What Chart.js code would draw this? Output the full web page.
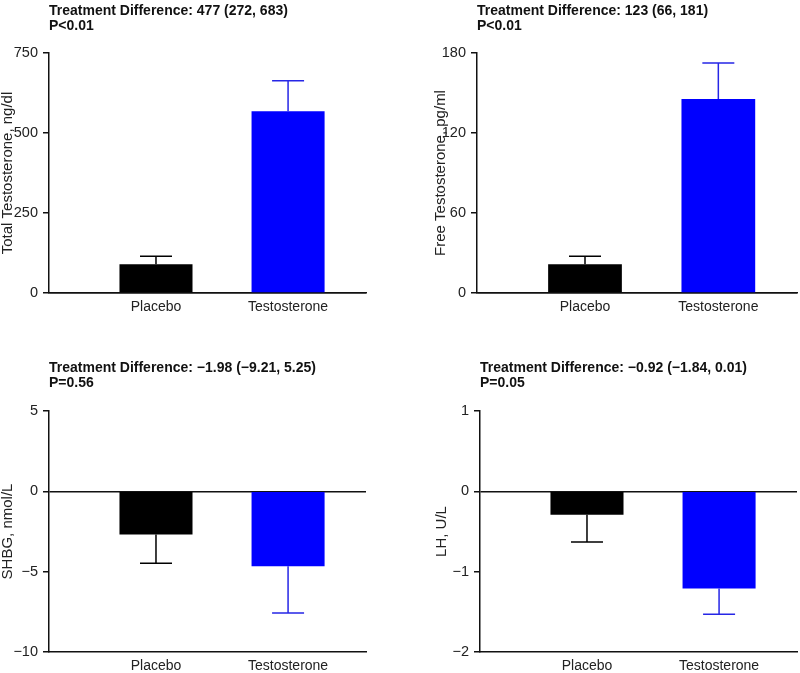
<!DOCTYPE html>
<html>
<head>
<meta charset="utf-8">
<script src="https://cdn.jsdelivr.net/npm/chart.js@4/dist/chart.umd.min.js"></script>
<style>
  html, body { margin: 0; padding: 0; background: #fff; }
  .panel { position: absolute; }
</style>
</head>
<body>
<div class="panel" style="left:0;top:0;width:400px;height:320px"><canvas id="total-t"></canvas></div>
<div class="panel" style="left:400px;top:0;width:400px;height:320px"><canvas id="free-t"></canvas></div>
<div class="panel" style="left:0;top:357px;width:400px;height:316px"><canvas id="shbg"></canvas></div>
<div class="panel" style="left:400px;top:357px;width:400px;height:316px"><canvas id="lh"></canvas></div>
<script>
const categories = ["Placebo", "Testosterone"];

const totalT = [90, 568];
const totalTErr = [25, 95];
const totalTTicks = [0, 750, 250];

const freeT = [21.5, 145.5];
const freeTErr = [6, 27];
const freeTTicks = [0, 180, 60];

const shbg = [-2.68, -4.67];
const shbgErr = [1.8, 2.9];
const shbgTicks = [-10, 5, 5];

const lh = [-0.29, -1.21];
const lhErr = [0.34, 0.32];
const lhTicks = [-2, 1, 1];

const font = "'Liberation Sans', Arial, sans-serif";

// one-sided error bars (away from zero), drawn over the bars
const errorBars = {
  id: "errorBars",
  afterDatasetsDraw(chart) {
    const ctx = chart.ctx;
    const yScale = chart.scales.y;
    const ds = chart.data.datasets[0];
    chart.getDatasetMeta(0).data.forEach((bar, i) => {
      const v = ds.data[i].y;
      const e = ds.errors[i];
      const yEnd = yScale.getPixelForValue(v >= 0 ? v + e : v - e);
      ctx.save();
      ctx.strokeStyle = ds.errorColors[i];
      ctx.lineWidth = 1.5;
      ctx.beginPath();
      ctx.moveTo(bar.x, bar.y);
      ctx.lineTo(bar.x, yEnd);
      ctx.moveTo(bar.x - 16, yEnd);
      ctx.lineTo(bar.x + 16, yEnd);
      ctx.stroke();
      ctx.restore();
    });
  },
};

const buildPanel = (id, values, errors, yTicks, yTitle, titleLines, box) => {
  const ctx = document.getElementById(id);
  return new Chart(ctx, {
    type: "bar",
    data: {
      datasets: [
        {
          data: categories.map((c, i) => ({ x: i + 1, y: values[i] })),
          errors: errors,
          errorColors: ["#000000", "#2626e6"],
          backgroundColor: ["#000000", "#0000ff"],
          borderWidth: 0,
          barPercentage: 0.553,
          categoryPercentage: 1,
        },
      ],
    },
    plugins: [errorBars],
    options: {
      responsive: true,
      maintainAspectRatio: false,
      animation: false,
      layout: { padding: { left: box.padLeft, right: box.padRight, top: 0, bottom: 0 } },
      plugins: {
        legend: { display: false },
        tooltip: { enabled: false },
        title: {
          display: true,
          text: titleLines,
          align: "start",
          fullSize: false,
          color: "#111",
          font: { family: font, size: 14, weight: "bold", lineHeight: 1.1 },
          padding: { top: 3, bottom: box.titleGap },
        },
      },
      scales: {
        x: {
          type: "linear",
          offset: false,
          min: 0.19,
          max: 2.59,
          afterBuildTicks: (scale) => {
            scale.ticks = categories.map((c, i) => ({ value: i + 1 }));
          },
          afterFit: (scale) => {
            scale.height = box.xHeight;
          },
          ticks: {
            callback: (v) => categories[v - 1],
            color: "#222",
            font: { family: font, size: 14 },
            padding: 6,
            maxRotation: 0,
            autoSkip: false,
          },
          grid: { display: false, drawTicks: false, tickLength: 0 },
          border: { display: true, color: "#111", width: 1.5 },
        },
        y: {
          min: yTicks[0],
          max: yTicks[1],
          afterFit: (scale) => {
            scale.width = box.yWidth;
          },
          ticks: {
            stepSize: yTicks[2],
            color: "#222",
            font: { family: font, size: 14.5 },
            padding: 5,
            callback: (v) => String(v).replace("-", "\u2212"),
          },
          grid: {
            color: (c) => (c.tick && c.tick.value === 0 ? "#111" : "rgba(0,0,0,0)"),
            lineWidth: 1.5,
            tickColor: "#111",
            tickLength: 6,
          },
          border: { display: true, color: "#111", width: 1.5 },
          title: {
            display: true,
            text: yTitle,
            color: "#222",
            font: { family: font, size: 15 },
            padding: { top: -1, bottom: 0 },
          },
        },
      },
    },
  });
};

buildPanel("total-t", totalT, totalTErr, totalTTicks, "Total Testosterone, ng/dl",
  ["Treatment Difference: 477 (272, 683)", "P<0.01"],
  { padLeft: 0, yWidth: 49, padRight: 34, xHeight: 27, titleGap: 19.2 });

buildPanel("free-t", freeT, freeTErr, freeTTicks, "Free Testosterone, pg/ml",
  ["Treatment Difference: 123 (66, 181)", "P<0.01"],
  { padLeft: 33, yWidth: 44, padRight: 3, xHeight: 27, titleGap: 19.2 });

buildPanel("shbg", shbg, shbgErr, shbgTicks, "SHBG, nmol/L",
  ["Treatment Difference: \u22121.98 (\u22129.21, 5.25)", "P=0.56"],
  { padLeft: 0, yWidth: 49, padRight: 34, xHeight: 21, titleGap: 20.2 });

buildPanel("lh", lh, lhErr, lhTicks, "LH, U/L",
  ["Treatment Difference: \u22120.92 (\u22121.84, 0.01)", "P=0.05"],
  { padLeft: 34, yWidth: 46, padRight: 3, xHeight: 21, titleGap: 20.2 });
</script>
</body>
</html>
